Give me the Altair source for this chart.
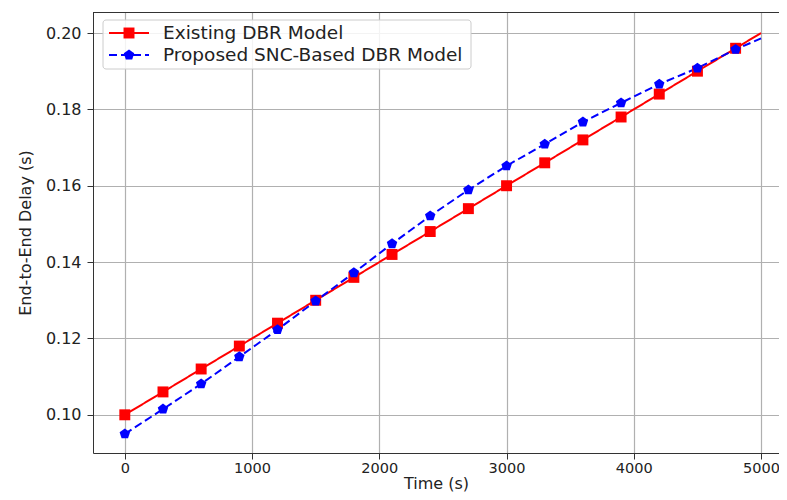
import altair as alt
import pandas as pd

series = ["Existing DBR Model", "Proposed SNC-Based DBR Model"]
time_s = [0, 300, 600, 900, 1200, 1500, 1800, 2100, 2400, 2700, 3000,
          3300, 3600, 3900, 4200, 4500, 4800, 5000]
existing = [0.100, 0.106, 0.112, 0.118, 0.124, 0.130, 0.136, 0.142, 0.148,
            0.154, 0.160, 0.166, 0.172, 0.178, 0.184, 0.190, 0.196, 0.200]
proposed = [0.095, 0.1015, 0.1081, 0.1152, 0.1223, 0.1298, 0.1372, 0.1448,
            0.1521, 0.1589, 0.1652, 0.1709, 0.1767, 0.1817, 0.1866, 0.1908,
            0.1957, 0.1986]
marker_times = time_s[:-1]
x_ticks = [0, 1000, 2000, 3000, 4000, 5000]
y_ticks = [0.10, 0.12, 0.14, 0.16, 0.18, 0.20]

colors = ["#ff0000", "#0000ff"]
dashes = [[1, 0], [8, 4]]
pentagon = "M0,-1L0.951,-0.309L0.588,0.809L-0.588,0.809L-0.951,-0.309Z"
shapes = ["square", pentagon]

rows = []
for t, a, b in zip(time_s, existing, proposed):
    rows.append({"series": series[0], "time": t, "delay": a, "marked": t in marker_times})
    rows.append({"series": series[1], "time": t, "delay": b, "marked": t in marker_times})
df = pd.DataFrame(rows)

W, H = 686, 441

xscale = alt.Scale(domain=[-250, 5141], nice=False, zero=False)
yscale = alt.Scale(domain=[0.090, 0.2055], nice=False, zero=False)
cscale = alt.Scale(domain=series, range=colors)
dscale = alt.Scale(domain=series, range=dashes)
sscale = alt.Scale(domain=series, range=shapes)

x = alt.X("time:Q", scale=xscale,
          axis=alt.Axis(title="Time (s)", values=x_ticks, format="d",
                        labelFontSize=14.5, labelPadding=2, titlePadding=1,
                        titleFontSize=16))
y = alt.Y("delay:Q", scale=yscale,
          axis=alt.Axis(title="End-to-End Delay (s)", values=y_ticks, format=".2f",
                        labelPadding=6, titlePadding=12, titleFontSize=16))

base = alt.Chart(df)
lines = base.mark_line(strokeWidth=2, clip=True).encode(
    x=x, y=y,
    color=alt.Color("series:N", scale=cscale, legend=None),
    strokeDash=alt.StrokeDash("series:N", scale=dscale, legend=None),
    detail="series:N",
)
points = base.transform_filter("datum.marked").mark_point(
    filled=True, opacity=1, clip=True
).encode(
    x=x, y=y,
    color=alt.Color("series:N", scale=cscale, legend=None),
    shape=alt.Shape("series:N", scale=sscale, legend=None),
    size=alt.value(120),
)
main = alt.layer(lines, points)

# top spine of the frame (left and bottom come from the axes)
frame = alt.Chart(pd.DataFrame({"a": [0]})).mark_rule(
    color="#333333", strokeWidth=1
).encode(x=alt.value(0), x2=alt.value(W), y=alt.value(0.5))

# legend
leg_df = pd.DataFrame({"series": series, "idx": [0, 1]})
ly = alt.Y("idx:Q", scale=alt.Scale(domain=[0, 1], range=[21, 43]), axis=None)
box = alt.Chart(pd.DataFrame({"a": [0]})).mark_rect(
    fill="white", fillOpacity=0.85, stroke="#cccccc", strokeWidth=1, cornerRadius=3
).encode(x=alt.value(10), x2=alt.value(378), y=alt.value(8), y2=alt.value(57))
leg = alt.Chart(leg_df)
leg_lines = leg.mark_rule(strokeWidth=2).encode(
    x=alt.value(16), x2=alt.value(56), y=ly,
    color=alt.Color("series:N", scale=cscale, legend=None),
    strokeDash=alt.StrokeDash("series:N", scale=dscale, legend=None),
)
leg_pts = leg.mark_point(filled=True, opacity=1).encode(
    x=alt.value(36), y=ly,
    color=alt.Color("series:N", scale=cscale, legend=None),
    shape=alt.Shape("series:N", scale=sscale, legend=None),
    size=alt.value(120),
)
leg_txt = leg.mark_text(align="left", baseline="middle", fontSize=18.5,
                        font="DejaVu Sans", color="#222222").encode(
    x=alt.value(70), y=ly, text="series:N"
)
legend = alt.layer(box, leg_lines, leg_pts, leg_txt)

chart = alt.layer(main, frame, legend).resolve_scale(
    x="independent", y="independent"
).properties(
    width=W, height=H,
    autosize=alt.AutoSizeParams(type="none"),
    padding={"left": 85, "top": 4, "right": 0, "bottom": 39},
).configure_view(
    stroke=None
).configure_axis(
    grid=True, gridColor="#b0b0b0", gridWidth=1.2,
    domain=True, domainColor="#333333", domainWidth=1,
    tickColor="#333333", tickSize=6, tickWidth=1,
    labelFont="DejaVu Sans", labelFontSize=16, labelColor="#222222",
    titleFont="DejaVu Sans", titleFontSize=16, titleColor="#222222",
    titleFontWeight="normal",
)

chart.save("out.html", embed_options={"renderer": "svg", "actions": False})
